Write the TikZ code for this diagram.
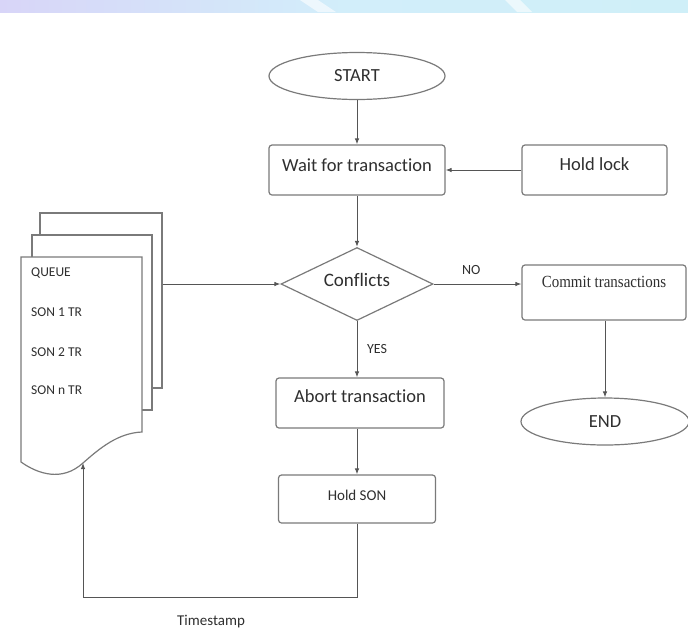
\documentclass[tikz,border=0pt]{standalone}
\usepackage{fontspec}
\setmainfont{Carlito}[Ligatures={NoCommon}]
\newfontfamily\commitfont{Liberation Serif}
\usepackage{graphicx}
\usetikzlibrary{shapes.geometric,arrows.meta}
\definecolor{linec}{HTML}{555555}
\definecolor{boxc}{HTML}{7A7A7A}
\definecolor{txtc}{HTML}{2F2F2F}
\definecolor{bandl}{HTML}{D8D5F8}
\definecolor{bandm}{HTML}{D2EEFA}
\definecolor{bandr}{HTML}{CFEFF8}
\begin{document}
\begin{tikzpicture}[x=1pt,y=-1pt,
  every node/.style={text=txtc},
  proc/.style={draw=boxc, line width=1.2pt, rounded corners=3pt, fill=white, inner sep=0pt,
    font=\fontsize{18.5}{20}\selectfont},
  term/.style={draw=boxc, ellipse, line width=1.2pt, fill=white, inner sep=0pt,
    font=\fontsize{18.5}{20}\selectfont},
  dec/.style={draw=boxc, diamond, aspect=2, line width=1.2pt, fill=white, inner sep=2pt,
    font=\fontsize{19}{21}\selectfont},
  doc/.style={draw=boxc, line width=1.2pt, fill=white},
  qtext/.style={anchor=west, inner sep=0pt, font=\fontsize{13.5}{15}\selectfont},
  conn/.style={draw=linec, line width=0.9pt, -{Latex[length=6pt,width=4.5pt]}},
  lbl/.style={font=\fontsize{14}{16}\selectfont, inner sep=0pt},
]
\useasboundingbox (0,0) rectangle (688,630);
% top decorative band
\shade[left color=bandl, right color=bandr, middle color=bandm] (0,0) rectangle (688,12);
\fill[white, opacity=0.6] (300,0) -- (318,0) -- (336,12) -- (318,12) -- cycle;
\fill[white, opacity=0.6] (505,0) -- (520,0) -- (532,12) -- (517,12) -- cycle;

% queue documents
\node[doc, minimum width=122pt, minimum height=175pt] (docback) at (101,300.5) {};
\node[doc, minimum width=120pt, minimum height=175pt] (docmid) at (92,322.5) {};
\draw[doc] (142,432) -- (142,257) -- (21,257) -- (21,462)
  .. controls (38,474) and (62,482) .. (83,463) coordinate (qin)
  .. controls (100,448) and (118,433) .. (142,432) -- cycle;
\node[qtext] (q0) at (31,273) {QUEUE};
\node[qtext] (q1) at (31,312) {SON 1 TR};
\node[qtext] (q2) at (31,352) {SON 2 TR};
\node[qtext] (q3) at (31,390) {SON n TR};

% flowchart nodes
\node[term, minimum width=176pt, minimum height=47pt] (start) at (357,76) {START};
\node[proc, minimum width=176pt, minimum height=50pt, text height=10pt, text depth=8pt] (wait) at (357,170) {Wait for transaction};
\node[proc, minimum width=145pt, minimum height=50pt, text height=9pt, text depth=9pt] (lock) at (594.5,170) {Hold lock};
\node[dec, minimum width=152pt, minimum height=73pt, text height=10pt, text depth=6pt] (conf) at (357,284) {Conflicts};
\node[proc, minimum width=164pt, minimum height=55pt, text height=6pt, text depth=16pt,
  font=\commitfont\fontsize{17}{19}\selectfont] (commit) at (604,292.5) {\scalebox{0.88}[1]{Commit transactions}};
\node[proc, minimum width=168pt, minimum height=50pt, text height=8pt, text depth=10pt] (abort) at (360,403) {Abort transaction};
\node[term, minimum width=168pt, minimum height=47pt] (end) at (605,421.5) {END};
\node[proc, minimum width=157pt, minimum height=48pt, text height=9pt, text depth=7pt,
  font=\fontsize{15}{17}\selectfont] (holdson) at (357,499) {Hold SON};

% connectors
\draw[conn] (start) -- (wait);
\draw[conn] (lock) -- (wait);
\draw[conn] (wait) -- (conf);
\draw[conn] (docback.east |- conf.west) -- (conf.west);
\draw[conn] (conf.east) -- (conf.east -| commit.west) node[lbl, pos=0.43, yshift=14pt] {NO};
\draw[conn] (conf.south) -- (conf.south |- abort.north) node[lbl, pos=0.5, xshift=20pt] {YES};
\draw[conn] (end.north |- commit.south) -- (end.north);
\draw[conn] (holdson.north |- abort.south) -- (holdson.north);
\draw[conn] (holdson.south) -- ++(0,74) -| (qin);
\node[font=\fontsize{15}{17}\selectfont, inner sep=0pt] (ts) at (211,622) {Timestamp};
\end{tikzpicture}
\end{document}
